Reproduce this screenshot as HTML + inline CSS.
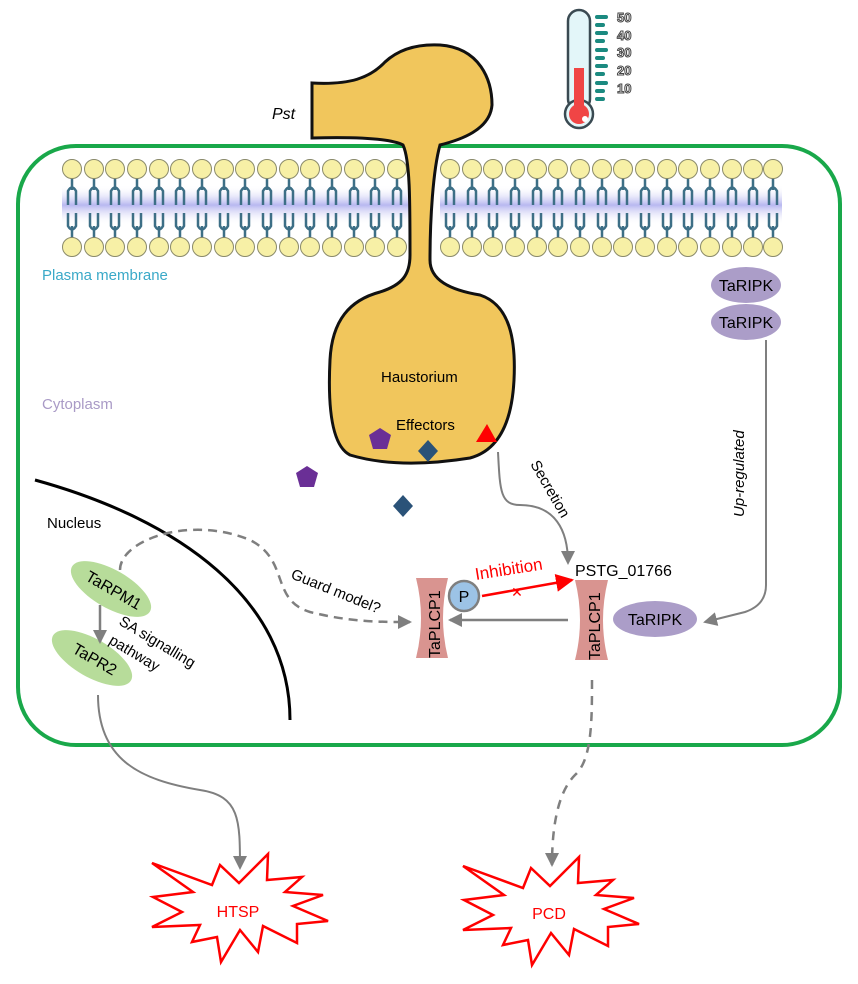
<!DOCTYPE html>
<html><head><meta charset="utf-8"><style>
body{margin:0;background:#fff}
svg{display:block;font-family:"Liberation Sans",Arial,sans-serif}
</style></head><body>
<svg width="858" height="984" viewBox="0 0 858 984" xmlns="http://www.w3.org/2000/svg">
<defs>
<marker id="ag" markerWidth="8" markerHeight="8" refX="7" refY="4" orient="auto" markerUnits="userSpaceOnUse"><path d="M0,0 L8,4 L0,8z" fill="#7f7f7f"/></marker>
<marker id="ag2" markerWidth="14" markerHeight="14" refX="12" refY="7" orient="auto" markerUnits="userSpaceOnUse"><path d="M0,0 L14,7 L0,14z" fill="#7f7f7f"/></marker>
<marker id="ar" markerWidth="18" markerHeight="18" refX="16" refY="9" orient="auto" markerUnits="userSpaceOnUse"><path d="M0,0 L18,9 L0,18z" fill="#f00"/></marker>
<linearGradient id="mb" x1="0" y1="0" x2="0" y2="1"><stop offset="0" stop-color="#fff" stop-opacity="0"/><stop offset="0.5" stop-color="#b8b8f0"/><stop offset="1" stop-color="#fff" stop-opacity="0"/></linearGradient>
<g id="lip">
<path d="M0,178 L0,190 M-4,205 L-4,191 Q0,184 4,191 L4,205 M-4,213 L-4,226 Q0,233 4,226 L4,213 M0,226 L0,238" stroke="#3d6f86" stroke-width="2.5" fill="none"/>
<circle cx="0" cy="169" r="9.5" fill="#f7f0a6" stroke="#8a8a6a" stroke-width="1"/>
<circle cx="0" cy="247" r="9.5" fill="#f7f0a6" stroke="#8a8a6a" stroke-width="1"/>
</g>
</defs>

<!-- cell -->
<rect x="18" y="146" width="822" height="599" rx="58" fill="none" stroke="#19a84a" stroke-width="4"/>

<!-- membrane -->
<rect x="62" y="185" width="350" height="40" fill="url(#mb)"/>
<rect x="440" y="185" width="342" height="40" fill="url(#mb)"/>
<g>
<use href="#lip" x="72"/><use href="#lip" x="94"/><use href="#lip" x="115"/><use href="#lip" x="137"/><use href="#lip" x="159"/><use href="#lip" x="180"/><use href="#lip" x="202"/><use href="#lip" x="224"/><use href="#lip" x="245"/><use href="#lip" x="267"/><use href="#lip" x="289"/><use href="#lip" x="310"/><use href="#lip" x="332"/><use href="#lip" x="354"/><use href="#lip" x="375"/><use href="#lip" x="397"/>
<use href="#lip" x="450"/><use href="#lip" x="472"/><use href="#lip" x="493"/><use href="#lip" x="515"/><use href="#lip" x="537"/><use href="#lip" x="558"/><use href="#lip" x="580"/><use href="#lip" x="602"/><use href="#lip" x="623"/><use href="#lip" x="645"/><use href="#lip" x="667"/><use href="#lip" x="688"/><use href="#lip" x="710"/><use href="#lip" x="732"/><use href="#lip" x="753"/><use href="#lip" x="773"/>
</g>

<!-- haustorium -->
<path d="M312,83 C350,85 370,78 385,62 C400,48 420,44 440,45 C480,48 492,80 492,105 C490,130 460,140 440,145 C433,170 430,220 430,260 C430,280 450,290 480,295 C510,305 516,340 514,380 C512,420 500,450 470,458 C420,466 380,464 350,455 C330,445 328,400 330,360 C332,320 350,300 380,292 C402,285 410,275 410,255 C410,200 410,160 403,145 C390,138 350,137 312,138 Z" fill="#f1c65c" stroke="#111" stroke-width="3"/>

<text x="272" y="119" font-size="16" font-style="italic">Pst</text>
<text x="381" y="382" font-size="15">Haustorium</text>
<text x="396" y="430" font-size="15">Effectors</text>
<polygon points="380,428 391,435 387,449 373,449 369,435" fill="#6a2f96"/>
<polygon points="307,466 318,473 314,487 300,487 296,473" fill="#6a2f96"/>
<polygon points="428,440 438,451 428,462 418,451" fill="#2a5278"/>
<polygon points="403,495 413,506 403,517 393,506" fill="#2a5278"/>
<polygon points="487,424 497,442 476,442" fill="#f00"/>

<!-- thermometer -->
<rect x="568" y="10" width="22" height="100" rx="11" fill="#e3f6f9" stroke="#3a4a52" stroke-width="2.5"/>
<circle cx="579" cy="114" r="14" fill="#e3f6f9" stroke="#3a4a52" stroke-width="2.5"/>
<circle cx="579" cy="114" r="10" fill="#f04545"/>
<rect x="574" y="68" width="10" height="45" fill="#f04545"/>
<circle cx="585" cy="119" r="3" fill="#fff"/>
<g stroke="#1b8a80" stroke-width="4" stroke-linecap="round">
<line x1="597" y1="17" x2="606" y2="17"/><line x1="597" y1="25" x2="603" y2="25"/><line x1="597" y1="33" x2="606" y2="33"/><line x1="597" y1="41" x2="603" y2="41"/><line x1="597" y1="50" x2="606" y2="50"/><line x1="597" y1="58" x2="603" y2="58"/><line x1="597" y1="66" x2="606" y2="66"/><line x1="597" y1="74" x2="603" y2="74"/><line x1="597" y1="83" x2="606" y2="83"/><line x1="597" y1="91" x2="603" y2="91"/><line x1="597" y1="99" x2="603" y2="99"/>
</g>
<g font-size="13" font-weight="bold" fill="#fff" stroke="#444" stroke-width="1">
<text x="617" y="22">50</text><text x="617" y="40">40</text><text x="617" y="57">30</text><text x="617" y="75">20</text><text x="617" y="93">10</text>
</g>

<text x="42" y="280" font-size="15" fill="#3aa9c8">Plasma membrane</text>
<text x="42" y="409" font-size="15" fill="#a99ac6">Cytoplasm</text>

<!-- TaRIPK top -->
<ellipse cx="746" cy="285" rx="35" ry="18" fill="#ab9dc8"/>
<text x="746" y="291" font-size="16" text-anchor="middle">TaRIPK</text>
<ellipse cx="746" cy="322" rx="35" ry="18" fill="#ab9dc8"/>
<text x="746" y="328" font-size="16" text-anchor="middle">TaRIPK</text>
<path d="M766,340 L766,585 Q766,605 745,612 L705,622" fill="none" stroke="#7f7f7f" stroke-width="2" marker-end="url(#ag2)"/>
<text transform="translate(744,517) rotate(-90)" font-size="15" font-style="italic">Up-regulated</text>

<!-- secretion -->
<path d="M498,452 C500,490 500,505 520,505 C555,505 568,530 568,563" fill="none" stroke="#7f7f7f" stroke-width="2" marker-end="url(#ag2)"/>
<text transform="translate(530,464) rotate(60)" font-size="15">Secretion</text>

<!-- nucleus -->
<path d="M35,480 C180,520 290,600 290,720" fill="none" stroke="#000" stroke-width="3"/>
<text x="47" y="528" font-size="15">Nucleus</text>

<!-- guard dashed -->
<path d="M120,570 C120,540 190,515 250,540 C290,560 270,600 310,612 C350,622 380,622 410,622" fill="none" stroke="#7f7f7f" stroke-width="2.5" stroke-dasharray="9,6" marker-end="url(#ag2)"/>
<text transform="translate(290,578) rotate(22)" font-size="15">Guard model?</text>

<!-- SA pathway -->
<ellipse cx="111" cy="589" rx="45" ry="19" transform="rotate(30 111 589)" fill="#b7dc9a"/>
<text transform="translate(111,595) rotate(30)" font-size="16" text-anchor="middle">TaRPM1</text>
<ellipse cx="92" cy="658" rx="45" ry="19" transform="rotate(30 92 658)" fill="#b7dc9a"/>
<text transform="translate(92,664) rotate(30)" font-size="16" text-anchor="middle">TaPR2</text>
<line x1="100" y1="605" x2="100" y2="642" stroke="#7f7f7f" stroke-width="2.5" marker-end="url(#ag2)"/>
<text transform="translate(118,624) rotate(31)" font-size="15">SA signalling</text>
<text transform="translate(108,643) rotate(31)" font-size="15">pathway</text>

<path d="M98,695 C98,760 140,780 200,790 C240,796 240,820 240,868" fill="none" stroke="#7f7f7f" stroke-width="2" marker-end="url(#ag2)"/>

<!-- TaPLCP1 left -->
<path d="M416,578 L448,578 Q438,618 448,658 L416,658 Q426,618 416,578Z" fill="#d99490"/>
<text transform="translate(440,658) rotate(-90)" font-size="16">TaPLCP1</text>
<!-- TaPLCP1 right -->
<path d="M575,580 L608,580 Q598,620 608,660 L575,660 Q585,620 575,580Z" fill="#d99490"/>
<text transform="translate(600,660) rotate(-90)" font-size="16">TaPLCP1</text>

<circle cx="464" cy="596" r="15" fill="#9cc3e6" stroke="#7f7f7f" stroke-width="2.5"/>
<text x="464" y="602" font-size="16" text-anchor="middle">P</text>

<line x1="482" y1="596" x2="572" y2="580" stroke="#f00" stroke-width="2.5" marker-end="url(#ar)"/>
<text x="517" y="597" font-size="14" fill="#f00" text-anchor="middle">✕</text>
<text transform="translate(476,580) rotate(-9)" font-size="17" fill="#f00">Inhibition</text>
<text x="575" y="576" font-size="16">PSTG_01766</text>

<line x1="568" y1="620" x2="450" y2="620" stroke="#7f7f7f" stroke-width="2.5" marker-end="url(#ag2)"/>

<ellipse cx="655" cy="619" rx="42" ry="18" fill="#ab9dc8"/>
<text x="655" y="625" font-size="16" text-anchor="middle">TaRIPK</text>

<path d="M592,680 C592,720 592,760 575,775 C560,790 552,820 552,865" fill="none" stroke="#7f7f7f" stroke-width="2.5" stroke-dasharray="9,7" marker-end="url(#ag2)"/>

<!-- bursts -->
<g id="burst"><polygon points="152,863 212,885 220,865 239,883 268,854 267,880 302,877 285,892 323,895 293,906 328,921 297,924 297,943 263,926 258,952 240,930 221,962 217,937 192,942 200,925 152,927 182,912 153,897 193,892" fill="#fff" stroke="#f00" stroke-width="2.5"/></g>
<text x="238" y="917" font-size="16" fill="#f00" text-anchor="middle">HTSP</text>
<use href="#burst" x="311" y="3"/>
<text x="549" y="919" font-size="16" fill="#f00" text-anchor="middle">PCD</text>
</svg>
</body></html>
